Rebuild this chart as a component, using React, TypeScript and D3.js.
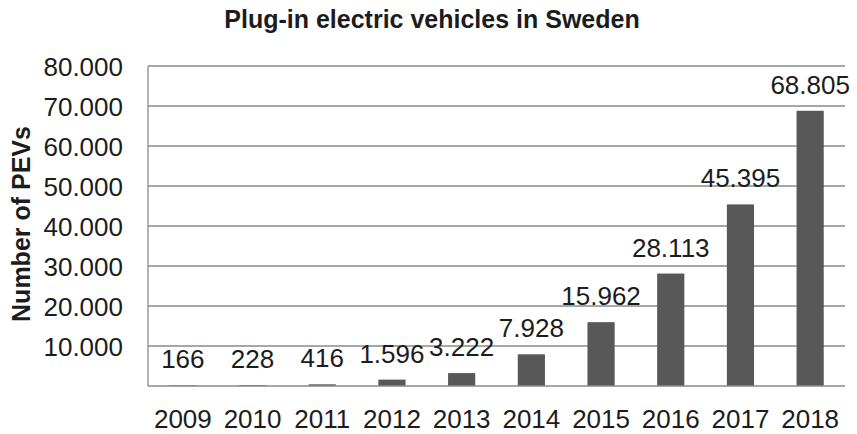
import React from "react";
import * as d3 from "d3";

const years: string[] = ["2009", "2010", "2011", "2012", "2013", "2014", "2015", "2016", "2017", "2018"];
const pevs: number[] = [166, 228, 416, 1596, 3222, 7928, 15962, 28113, 45395, 68805];
const yTicks: number[] = [10000, 20000, 30000, 40000, 50000, 60000, 70000, 80000];
const title = "Plug-in electric vehicles in Sweden";
const yTitle = "Number of PEVs";

const W = 857;
const H = 434;
const left = 148;
const right = 845;
const top = 66;
const bottom = 386;
const FONT = "'Liberation Sans', Arial, Helvetica, sans-serif";
const TEXT = "#1c1c1c";
const GRID = "#8a8a8a";
const BAR = "#585858";

const fmt = (v: number) => d3.format(",")(v).replace(/,/g, ".");

export default function App() {
  const x = d3.scaleBand<string>().domain(years).range([left, right]).paddingInner(0.61).paddingOuter(0.305);
  const y = d3.scaleLinear().domain([0, 80000]).range([bottom, top]);

  return (
    <svg width={W} height={H} viewBox={`0 0 ${W} ${H}`} style={{ display: "block", position: "absolute", left: 0, top: 0, background: "#fff" }}>
      <rect x={0} y={0} width={W} height={H} fill="#fff" />
      <text x={432} y={28} textAnchor="middle" fontFamily={FONT} fontWeight="bold" fontSize={25} fill={TEXT}>
        {title}
      </text>
      <text
        transform={`translate(30,224) rotate(-90)`}
        textAnchor="middle"
        fontFamily={FONT}
        fontWeight="bold"
        fontSize={25}
        fill={TEXT}
      >
        {yTitle}
      </text>
      {yTicks.map((t) => (
        <g key={t}>
          <line x1={left} x2={right} y1={y(t)} y2={y(t)} stroke={GRID} strokeWidth={1.3} />
          <text x={123} y={y(t) + 9.5} textAnchor="end" fontFamily={FONT} fontSize={26} fill={TEXT}>
            {fmt(t)}
          </text>
        </g>
      ))}
      <line x1={left} x2={left} y1={top} y2={bottom} stroke={GRID} strokeWidth={1.3} />
      {years.map((yr, i) => {
        const v = pevs[i];
        const bx = x(yr) as number;
        const cx = bx + x.bandwidth() / 2;
        return (
          <g key={yr}>
            <rect x={bx} y={y(v)} width={x.bandwidth()} height={bottom - y(v)} fill={BAR} />
            <text x={cx} y={y(v) - 17} textAnchor="middle" fontFamily={FONT} fontSize={26} fill={TEXT}>
              {fmt(v)}
            </text>
            <text x={cx} y={428} textAnchor="middle" fontFamily={FONT} fontSize={26} fill={TEXT}>
              {yr}
            </text>
          </g>
        );
      })}
      <line x1={left} x2={right} y1={bottom} y2={bottom} stroke={GRID} strokeWidth={1.3} />
    </svg>
  );
}
